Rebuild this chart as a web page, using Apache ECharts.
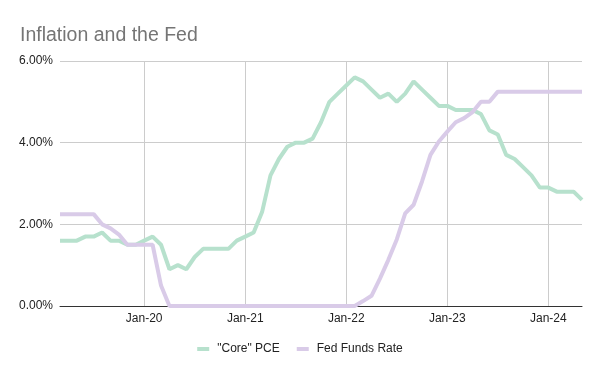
<!DOCTYPE html>
<html>
<head>
<meta charset="utf-8">
<script src="https://cdn.jsdelivr.net/npm/echarts@6/dist/echarts.min.js"></script>
<style>html,body{margin:0;padding:0;background:#fff;}#c{width:600px;height:371px;}</style>
</head>
<body>
<div id="c"></div>
<script>
const months = [
  'Mar-19','Apr-19','May-19','Jun-19','Jul-19','Aug-19','Sep-19','Oct-19','Nov-19','Dec-19',
  'Jan-20','Feb-20','Mar-20','Apr-20','May-20','Jun-20','Jul-20','Aug-20','Sep-20','Oct-20','Nov-20','Dec-20',
  'Jan-21','Feb-21','Mar-21','Apr-21','May-21','Jun-21','Jul-21','Aug-21','Sep-21','Oct-21','Nov-21','Dec-21',
  'Jan-22','Feb-22','Mar-22','Apr-22','May-22','Jun-22','Jul-22','Aug-22','Sep-22','Oct-22','Nov-22','Dec-22',
  'Jan-23','Feb-23','Mar-23','Apr-23','May-23','Jun-23','Jul-23','Aug-23','Sep-23','Oct-23','Nov-23','Dec-23',
  'Jan-24','Feb-24','Mar-24','Apr-24','May-24'
];
const corePCE = [
  1.6,1.6,1.6,1.7,1.7,1.8,1.6,1.6,1.5,1.5,
  1.6,1.7,1.5,0.9,1.0,0.9,1.2,1.4,1.4,1.4,1.4,1.6,
  1.7,1.8,2.3,3.2,3.6,3.9,4.0,4.0,4.1,4.5,5.0,5.2,
  5.4,5.6,5.5,5.3,5.1,5.2,5.0,5.2,5.5,5.3,5.1,4.9,
  4.9,4.8,4.8,4.8,4.7,4.3,4.2,3.7,3.6,3.4,3.2,2.9,
  2.9,2.8,2.8,2.8,2.6
];
const fedFunds = [
  2.25,2.25,2.25,2.25,2.25,2.0,1.9,1.75,1.5,1.5,
  1.5,1.5,0.5,0,0,0,0,0,0,0,0,0,
  0,0,0,0,0,0,0,0,0,0,0,0,
  0,0,0.12,0.25,0.67,1.13,1.63,2.27,2.48,3.05,3.7,4.03,
  4.27,4.5,4.6,4.75,5.0,5.0,5.25,5.25,5.25,5.25,5.25,5.25,
  5.25,5.25,5.25,5.25,5.25
];
const yTicks = [0, 2, 4, 6];
const seriesNames = ['"Core" PCE', 'Fed Funds Rate'];

const FONT = '"Liberation Sans", Arial, sans-serif';
const isJan = (i) => months[i].startsWith('Jan');

const chart = echarts.init(document.getElementById('c'), null, {renderer: 'canvas'});
chart.setOption({
  animation: false,
  backgroundColor: '#ffffff',
  title: {
    text: 'Inflation and the Fed',
    left: 15, top: 21,
    textStyle: {fontFamily: FONT, fontSize: 19.5, fontWeight: 'normal', color: '#757575'}
  },
  legend: {
    data: seriesNames,
    left: 'center', top: 338,
    icon: 'rect', itemWidth: 12, itemHeight: 4, itemGap: 17,
    textStyle: {fontFamily: FONT, fontSize: 12, color: '#222222', padding: [0, 0, 0, 3]}
  },
  grid: {left: 60, right: 18, top: 61, bottom: 65, containLabel: false},
  xAxis: {
    type: 'category',
    data: months,
    boundaryGap: false,
    axisLine: {show: true, lineStyle: {color: '#333333', width: 1}},
    axisTick: {show: false},
    axisLabel: {interval: isJan, fontFamily: FONT, fontSize: 12, color: '#222222', margin: 7},
    splitLine: {show: true, interval: isJan, lineStyle: {color: '#cccccc', width: 1}}
  },
  yAxis: {
    type: 'value',
    min: yTicks[0], max: yTicks[yTicks.length - 1], interval: 2,
    axisLine: {show: false},
    axisTick: {show: false},
    axisLabel: {formatter: v => v.toFixed(2) + '%', fontFamily: FONT, fontSize: 12, color: '#222222', margin: 7},
    splitLine: {show: true, lineStyle: {color: '#cccccc', width: 1}}
  },
  series: [
    {name: seriesNames[0], type: 'line', data: corePCE, symbol: 'none', smooth: false,
     lineStyle: {color: '#b7e1cd', width: 4}, itemStyle: {color: '#b7e1cd'}},
    {name: seriesNames[1], type: 'line', data: fedFunds, symbol: 'none', smooth: false,
     lineStyle: {color: '#d9cbe8', width: 4}, itemStyle: {color: '#d9cbe8'}}
  ]
});
</script>
</body>
</html>
